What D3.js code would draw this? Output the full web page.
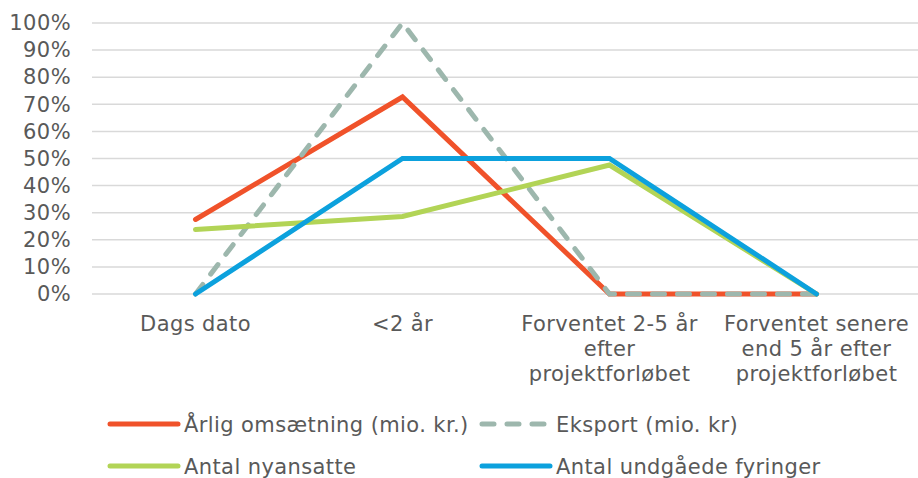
<!DOCTYPE html>
<html><head><meta charset="utf-8">
<script src="https://cdn.jsdelivr.net/npm/d3@7"></script>
<style>body{margin:0;background:#fff}svg{display:block}text{font-family:"DejaVu Sans",Verdana,sans-serif;fill:#595959}</style>
</head><body>
<svg id="c" width="918" height="478"></svg>
<script>
const categories = ["Dags dato", "<2 år", "Forventet 2-5 år\nefter\nprojektforløbet", "Forventet senere\nend 5 år efter\nprojektforløbet"];
const seriesNames = ["Årlig omsætning (mio. kr.)", "Eksport (mio. kr)", "Antal nyansatte", "Antal undgåede fyringer"];
const omsaetning = [0.275, 0.727, 0, 0];
const eksport = [0, 1.0, 0, 0];
const nyansatte = [0.238, 0.286, 0.476, 0];
const fyringer = [0, 0.5, 0.5, 0];
const yTicks = [0,0.1,0.2,0.3,0.4,0.5,0.6,0.7,0.8,0.9,1.0];

const colors = ["#F0522A", "#9DB7AD", "#B2D456", "#0CA1DD"];
const dashes = [null, "12,13", null, null];
const series = [omsaetning, eksport, nyansatte, fyringer];

const svg = d3.select("#c");
const fs = 21;
const ls = "0.4px";
const x = d3.scaleBand().domain(categories).range([92, 920]);
const y = d3.scaleLinear().domain([0, 1]).range([294, 23]);

// gridlines
svg.append("g").selectAll("line").data(yTicks).join("line")
  .attr("x1", 92).attr("x2", 918)
  .attr("y1", d => y(d)).attr("y2", d => y(d))
  .attr("stroke", "#D9D9D9").attr("stroke-width", 1.5);

// y axis labels
const yAxis = d3.axisLeft(y).tickValues(yTicks).tickFormat(d3.format(".0%")).tickSize(0).tickPadding(0);
const ga = svg.append("g").attr("transform", "translate(71,0)").call(yAxis);
ga.select(".domain").remove();
ga.selectAll("text").style("font-size", fs + "px").style("letter-spacing", ls).attr("fill", "#595959").style("font-family", '"DejaVu Sans",Verdana,sans-serif');

// x labels
const xl = svg.append("g").selectAll("text").data(categories).join("text")
  .attr("x", d => x(d) + x.bandwidth() / 2).attr("y", 331)
  .attr("text-anchor", "middle").style("font-size", fs + "px").style("letter-spacing", ls);
xl.each(function(d) {
  const t = d3.select(this);
  d.split("\n").forEach((s, i) => {
    t.append("tspan").attr("x", x(d) + x.bandwidth() / 2).attr("dy", i === 0 ? 0 : 25).text(s);
  });
});

// lines
const line = d3.line().x((d, i) => x(categories[i]) + x.bandwidth() / 2).y(d => y(d));
series.forEach((s, k) => {
  svg.append("path").datum(s).attr("d", line)
    .attr("fill", "none").attr("stroke", colors[k]).attr("stroke-width", 5)
    .attr("stroke-linecap", "round").attr("stroke-linejoin", "miter")
    .attr("stroke-dasharray", dashes[k]);
});

// legend
const legendPos = [[108, 424], [480, 424], [108, 466], [480, 466]];
seriesNames.forEach((n, k) => {
  const [lx, ly] = legendPos[k];
  svg.append("line").attr("x1", lx + 2).attr("x2", lx + 70).attr("y1", ly).attr("y2", ly)
    .attr("stroke", colors[k]).attr("stroke-width", 5).attr("stroke-linecap", "round")
    .attr("stroke-dasharray", dashes[k]);
  svg.append("text").attr("x", lx + 76).attr("y", ly + 8).style("font-size", fs + "px").style("letter-spacing", ls).text(n);
});
</script>
</body></html>
